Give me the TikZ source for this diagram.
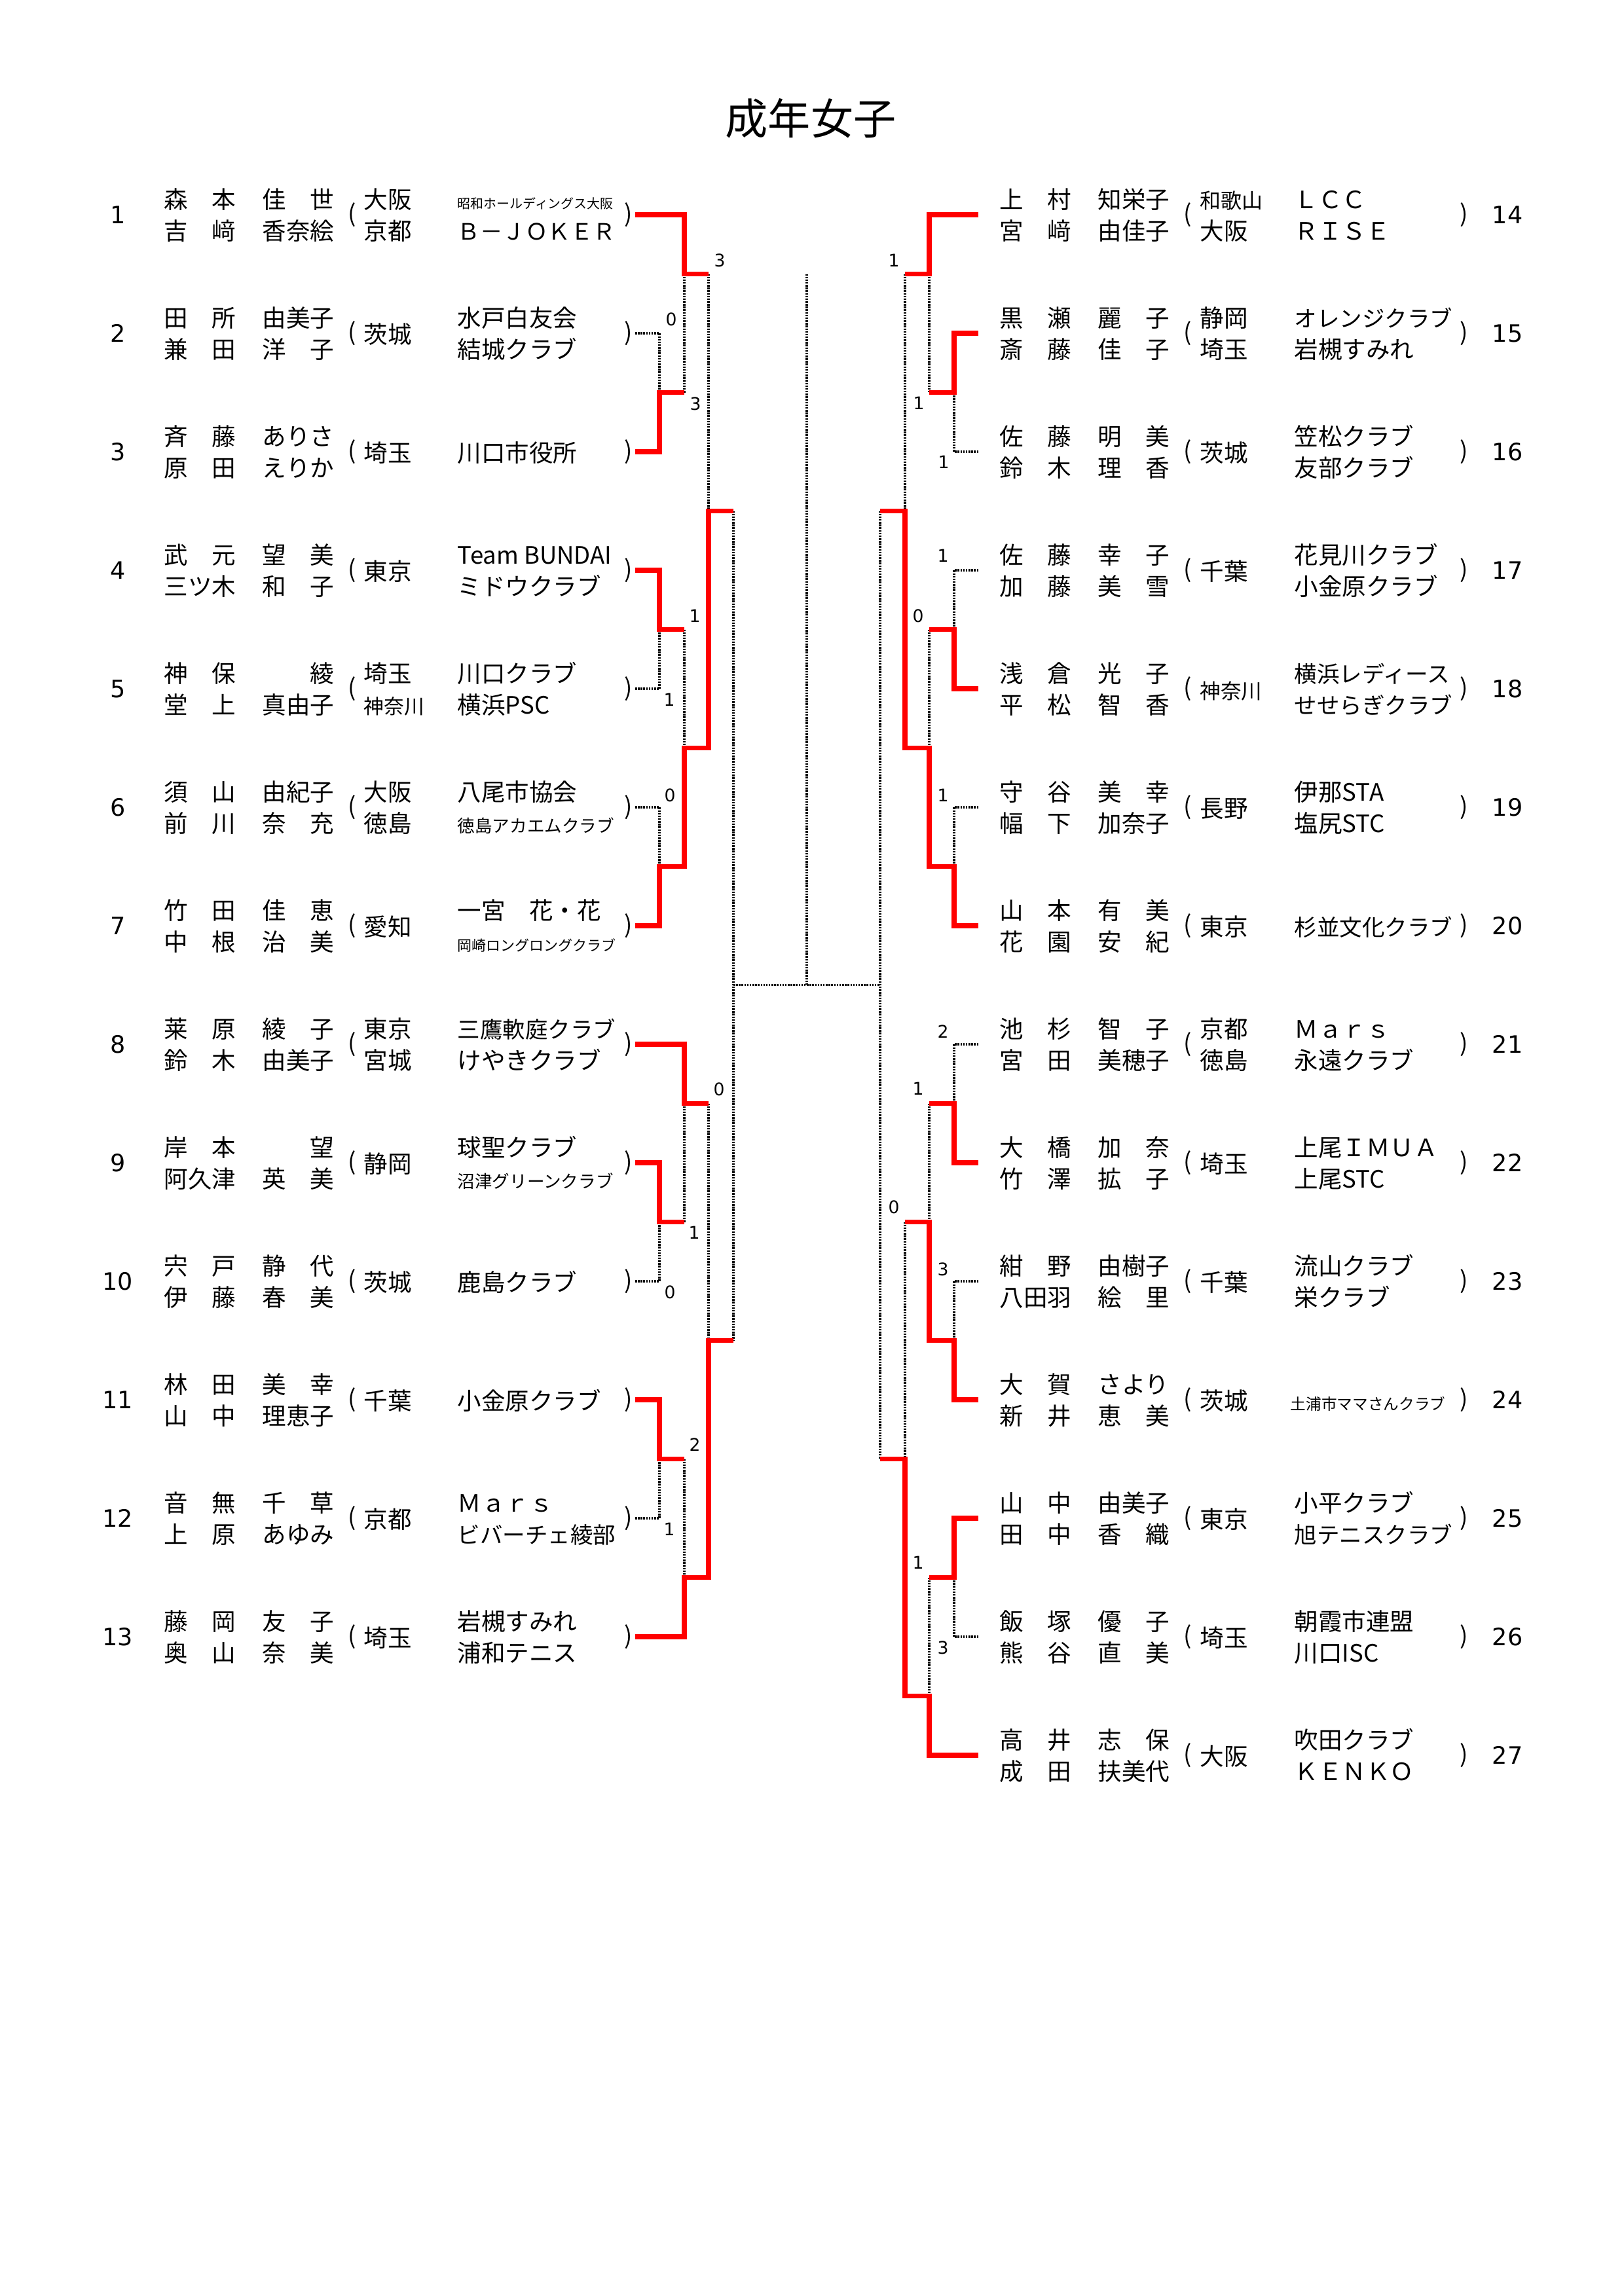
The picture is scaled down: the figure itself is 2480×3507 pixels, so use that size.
\documentclass[tikz,border=0pt]{standalone}
\usepackage{fontspec}
\setmainfont{Noto Sans CJK JP}
\newfontfamily\numfont{DejaVu Sans}
\usetikzlibrary{calc}
\newcommand\pn[2]{\makebox[3em][s]{#1}\hspace{1.1em}\makebox[3em][s]{#2}}
\newcommand\fs[2]{{\fontsize{#1}{#1}\selectfont #2}}
\tikzset{
  txt/.style={inner sep=0pt, anchor=west, font=\fontsize{8.8pt}{10pt}\selectfont, text height=0.88em, text depth=0.12em},
  num/.style={inner sep=0pt, anchor=center, font=\numfont\fontsize{8.8pt}{10pt}\selectfont},
  par/.style={inner sep=0pt, anchor=center, font=\fontsize{8.8pt}{10pt}\selectfont},
  sc/.style={inner sep=0pt, anchor=center, font=\numfont\fontsize{6.4pt}{7pt}\selectfont},
  redline/.style={draw=red, line width=1.8pt},
  dotline/.style={draw=black, line width=0.75pt, dash pattern=on 0.6pt off 0.4pt},
}
\begin{document}
\begin{tikzpicture}[x=0.2409pt, y=-0.2409pt]
\fill[white] (0,0) rectangle (2480,3507);
\useasboundingbox (0,0) rectangle (2480,3507);

\node[inner sep=0pt, font=\fontsize{15.7pt}{17pt}\selectfont] (title) at (1238,181) {成年女子};

% coordinates
\coordinate (L1) at (1007,0); \coordinate (L2) at (1045,0);
\coordinate (L3) at (1082,0); \coordinate (L4) at (1120,0);
\coordinate (C)  at (1232,0);
\coordinate (R4) at (1344,0); \coordinate (R3) at (1382,0);
\coordinate (R2) at (1419,0); \coordinate (R1) at (1457,0);
\foreach \i in {1,...,13} { \coordinate (e\i) at (970,{328+181*(\i-1)}); }
\foreach \i in {14,...,27} { \coordinate (e\i) at (1494,{328+181*(\i-14)}); }
\foreach \k in {0,...,12} { \coordinate (m\k) at (0,{418.5+181*\k}); }

% numbers and parentheses
\foreach \i in {1,...,13} {
  \node[num] (n\i) at (180,{328+181*(\i-1)}) {\i};
  \node[par] (o\i) at (538,{328+181*(\i-1)}) {(};
  \node[par] (c\i) at (960,{328+181*(\i-1)}) {)};
}
\foreach \i in {14,...,27} {
  \node[num] (n\i) at (2302,{328+181*(\i-14)}) {\i};
  \node[par] (o\i) at (1814,{328+181*(\i-14)}) {(};
  \node[par] (c\i) at (2236,{328+181*(\i-14)}) {)};
}

% ---------------- left entries ----------------
% 1
\node[txt] (a1) at (250,303) {\pn{森\hfill{}本}{佳\hfill{}世}};
\node[txt] (b1) at (250,351) {\pn{吉\hfill{}﨑}{香奈絵}};
\node[txt] (p1) at (555,303) {大阪};
\node[txt] (q1) at (555,351) {京都};
\node[txt] (t1) at (698,303) {\fs{4.8pt}{昭和ホールディングス大阪}};
\node[txt] (u1) at (698,351) {\fs{8.3pt}{Ｂ－ＪＯＫＥＲ}};
% 2
\node[txt] (a2) at (250,484) {\pn{田\hfill{}所}{由美子}};
\node[txt] (b2) at (250,532) {\pn{兼\hfill{}田}{洋\hfill{}子}};
\node[txt] (p2) at (555,509) {茨城};
\node[txt] (t2) at (698,484) {水戸白友会};
\node[txt] (u2) at (698,532) {結城クラブ};
% 3
\node[txt] (a3) at (250,665) {\pn{斉\hfill{}藤}{ありさ}};
\node[txt] (b3) at (250,713) {\pn{原\hfill{}田}{えりか}};
\node[txt] (p3) at (555,690) {埼玉};
\node[txt] (t3) at (698,690) {川口市役所};
% 4
\node[txt] (a4) at (250,846) {\pn{武\hfill{}元}{望\hfill{}美}};
\node[txt] (b4) at (250,894) {\pn{三ツ木}{和\hfill{}子}};
\node[txt] (p4) at (555,871) {東京};
\node[txt] (t4) at (698,846) {Team BUNDAI};
\node[txt] (u4) at (698,894) {ミドウクラブ};
% 5
\node[txt] (a5) at (250,1027) {\pn{神\hfill{}保}{\hfill{}綾}};
\node[txt] (b5) at (250,1075) {\pn{堂\hfill{}上}{真由子}};
\node[txt] (p5) at (555,1027) {埼玉};
\node[txt] (q5) at (555,1075) {\fs{7.4pt}{神奈川}};
\node[txt] (t5) at (698,1027) {川口クラブ};
\node[txt] (u5) at (698,1075) {横浜PSC};
% 6
\node[txt] (a6) at (250,1208) {\pn{須\hfill{}山}{由紀子}};
\node[txt] (b6) at (250,1256) {\pn{前\hfill{}川}{奈\hfill{}充}};
\node[txt] (p6) at (555,1208) {大阪};
\node[txt] (q6) at (555,1256) {徳島};
\node[txt] (t6) at (698,1208) {八尾市協会};
\node[txt] (u6) at (698,1256) {\fs{6.4pt}{徳島アカエムクラブ}};
% 7
\node[txt] (a7) at (250,1389) {\pn{竹\hfill{}田}{佳\hfill{}恵}};
\node[txt] (b7) at (250,1437) {\pn{中\hfill{}根}{治\hfill{}美}};
\node[txt] (p7) at (555,1414) {愛知};
\node[txt] (t7) at (698,1389) {一宮　花・花};
\node[txt] (u7) at (698,1437) {\fs{5.3pt}{岡崎ロングロングクラブ}};
% 8
\node[txt] (a8) at (250,1570) {\pn{莱\hfill{}原}{綾\hfill{}子}};
\node[txt] (b8) at (250,1618) {\pn{鈴\hfill{}木}{由美子}};
\node[txt] (p8) at (555,1570) {東京};
\node[txt] (q8) at (555,1618) {宮城};
\node[txt] (t8) at (698,1570) {\fs{8.3pt}{三鷹軟庭クラブ}};
\node[txt] (u8) at (698,1618) {けやきクラブ};
% 9
\node[txt] (a9) at (250,1751) {\pn{岸\hfill{}本}{\hfill{}望}};
\node[txt] (b9) at (250,1799) {\pn{阿久津}{英\hfill{}美}};
\node[txt] (p9) at (555,1776) {静岡};
\node[txt] (t9) at (698,1751) {球聖クラブ};
\node[txt] (u9) at (698,1799) {\fs{6.4pt}{沼津グリーンクラブ}};
% 10
\node[txt] (a10) at (250,1932) {\pn{宍\hfill{}戸}{静\hfill{}代}};
\node[txt] (b10) at (250,1980) {\pn{伊\hfill{}藤}{春\hfill{}美}};
\node[txt] (p10) at (555,1957) {茨城};
\node[txt] (t10) at (698,1957) {鹿島クラブ};
% 11
\node[txt] (a11) at (250,2113) {\pn{林\hfill{}田}{美\hfill{}幸}};
\node[txt] (b11) at (250,2161) {\pn{山\hfill{}中}{理恵子}};
\node[txt] (p11) at (555,2138) {千葉};
\node[txt] (t11) at (698,2138) {小金原クラブ};
% 12
\node[txt] (a12) at (250,2294) {\pn{音\hfill{}無}{千\hfill{}草}};
\node[txt] (b12) at (250,2342) {\pn{上\hfill{}原}{あゆみ}};
\node[txt] (p12) at (555,2319) {京都};
\node[txt] (t12) at (698,2294) {Ｍａｒｓ};
\node[txt] (u12) at (698,2342) {\fs{8.3pt}{ビバーチェ綾部}};
% 13
\node[txt] (a13) at (250,2475) {\pn{藤\hfill{}岡}{友\hfill{}子}};
\node[txt] (b13) at (250,2523) {\pn{奥\hfill{}山}{奈\hfill{}美}};
\node[txt] (p13) at (555,2500) {埼玉};
\node[txt] (t13) at (698,2475) {岩槻すみれ};
\node[txt] (u13) at (698,2523) {浦和テニス};

% ---------------- right entries ----------------
% 14
\node[txt] (a14) at (1526,303) {\pn{上\hfill{}村}{知栄子}};
\node[txt] (b14) at (1526,351) {\pn{宮\hfill{}﨑}{由佳子}};
\node[txt] (p14) at (1832,303) {\fs{7.7pt}{和歌山}};
\node[txt] (q14) at (1832,351) {大阪};
\node[txt] (t14) at (1976,303) {ＬＣＣ};
\node[txt] (u14) at (1976,351) {ＲＩＳＥ};
% 15
\node[txt] (a15) at (1526,484) {\pn{黒\hfill{}瀬}{麗\hfill{}子}};
\node[txt] (b15) at (1526,532) {\pn{斎\hfill{}藤}{佳\hfill{}子}};
\node[txt] (p15) at (1832,484) {静岡};
\node[txt] (q15) at (1832,532) {埼玉};
\node[txt] (t15) at (1976,484) {\fs{8.3pt}{オレンジクラブ}};
\node[txt] (u15) at (1976,532) {岩槻すみれ};
% 16
\node[txt] (a16) at (1526,665) {\pn{佐\hfill{}藤}{明\hfill{}美}};
\node[txt] (b16) at (1526,713) {\pn{鈴\hfill{}木}{理\hfill{}香}};
\node[txt] (p16) at (1832,690) {茨城};
\node[txt] (t16) at (1976,665) {笠松クラブ};
\node[txt] (u16) at (1976,713) {友部クラブ};
% 17
\node[txt] (a17) at (1526,846) {\pn{佐\hfill{}藤}{幸\hfill{}子}};
\node[txt] (b17) at (1526,894) {\pn{加\hfill{}藤}{美\hfill{}雪}};
\node[txt] (p17) at (1832,871) {千葉};
\node[txt] (t17) at (1976,846) {花見川クラブ};
\node[txt] (u17) at (1976,894) {小金原クラブ};
% 18
\node[txt] (a18) at (1526,1027) {\pn{浅\hfill{}倉}{光\hfill{}子}};
\node[txt] (b18) at (1526,1075) {\pn{平\hfill{}松}{智\hfill{}香}};
\node[txt] (p18) at (1832,1052) {\fs{7.6pt}{神奈川}};
\node[txt] (t18) at (1976,1027) {\fs{8.3pt}{横浜レディース}};
\node[txt] (u18) at (1976,1075) {\fs{8.3pt}{せせらぎクラブ}};
% 19
\node[txt] (a19) at (1526,1208) {\pn{守\hfill{}谷}{美\hfill{}幸}};
\node[txt] (b19) at (1526,1256) {\pn{幅\hfill{}下}{加奈子}};
\node[txt] (p19) at (1832,1233) {長野};
\node[txt] (t19) at (1976,1208) {伊那STA};
\node[txt] (u19) at (1976,1256) {塩尻STC};
% 20
\node[txt] (a20) at (1526,1389) {\pn{山\hfill{}本}{有\hfill{}美}};
\node[txt] (b20) at (1526,1437) {\pn{花\hfill{}園}{安\hfill{}紀}};
\node[txt] (p20) at (1832,1414) {東京};
\node[txt] (t20) at (1976,1414) {\fs{8.3pt}{杉並文化クラブ}};
% 21
\node[txt] (a21) at (1526,1570) {\pn{池\hfill{}杉}{智\hfill{}子}};
\node[txt] (b21) at (1526,1618) {\pn{宮\hfill{}田}{美穂子}};
\node[txt] (p21) at (1832,1570) {京都};
\node[txt] (q21) at (1832,1618) {徳島};
\node[txt] (t21) at (1976,1570) {Ｍａｒｓ};
\node[txt] (u21) at (1976,1618) {永遠クラブ};
% 22
\node[txt] (a22) at (1526,1751) {\pn{大\hfill{}橋}{加\hfill{}奈}};
\node[txt] (b22) at (1526,1799) {\pn{竹\hfill{}澤}{拡\hfill{}子}};
\node[txt] (p22) at (1832,1776) {埼玉};
\node[txt] (t22) at (1976,1751) {上尾ＩＭＵＡ};
\node[txt] (u22) at (1976,1799) {上尾STC};
% 23
\node[txt] (a23) at (1526,1932) {\pn{紺\hfill{}野}{由樹子}};
\node[txt] (b23) at (1526,1980) {\pn{八田羽}{絵\hfill{}里}};
\node[txt] (p23) at (1832,1957) {千葉};
\node[txt] (t23) at (1976,1932) {流山クラブ};
\node[txt] (u23) at (1976,1980) {栄クラブ};
% 24
\node[txt] (a24) at (1526,2113) {\pn{大\hfill{}賀}{さより}};
\node[txt] (b24) at (1526,2161) {\pn{新\hfill{}井}{恵\hfill{}美}};
\node[txt] (p24) at (1832,2138) {茨城};
\node[txt] (t24) at (1970,2138) {\fs{5.7pt}{土浦市ママさんクラブ}};
% 25
\node[txt] (a25) at (1526,2294) {\pn{山\hfill{}中}{由美子}};
\node[txt] (b25) at (1526,2342) {\pn{田\hfill{}中}{香\hfill{}織}};
\node[txt] (p25) at (1832,2319) {東京};
\node[txt] (t25) at (1976,2294) {小平クラブ};
\node[txt] (u25) at (1976,2342) {\fs{8.3pt}{旭テニスクラブ}};
% 26
\node[txt] (a26) at (1526,2475) {\pn{飯\hfill{}塚}{優\hfill{}子}};
\node[txt] (b26) at (1526,2523) {\pn{熊\hfill{}谷}{直\hfill{}美}};
\node[txt] (p26) at (1832,2500) {埼玉};
\node[txt] (t26) at (1976,2475) {朝霞市連盟};
\node[txt] (u26) at (1976,2523) {川口ISC};
% 27
\node[txt] (a27) at (1526,2656) {\pn{高\hfill{}井}{志\hfill{}保}};
\node[txt] (b27) at (1526,2704) {\pn{成\hfill{}田}{扶美代}};
\node[txt] (p27) at (1832,2681) {大阪};
\node[txt] (t27) at (1976,2656) {吹田クラブ};
\node[txt] (u27) at (1976,2704) {ＫＥＮＫＯ};

% ---------------- bracket: dotted (losers) ----------------
\draw[dotline] (e2) -- (L1|-e2) -- (L1|-m1);
\draw[dotline] (L2|-m1) -- (L2|-m0);
\draw[dotline] (L3|-m0) -- (L3|-m2);
\draw[dotline] (e5) -- (L1|-e5) -- (L1|-m3);
\draw[dotline] (e6) -- (L1|-e6) -- (L1|-m5);
\draw[dotline] (L2|-m3) -- (L2|-m4);
\draw[dotline] (L4|-m2) -- (L4|-m9);
\draw[dotline] (e10) -- (L1|-e10) -- (L1|-m8);
\draw[dotline] (L2|-m8) -- (L2|-m7);
\draw[dotline] (L3|-m7) -- (L3|-m9);
\draw[dotline] (e12) -- (L1|-e12) -- (L1|-m10);
\draw[dotline] (L2|-m10) -- (L2|-m11);

\draw[dotline] (L4|-m6) -- (R4|-m6);
\draw[dotline] (C|-m0) -- (C|-m6);

\draw[dotline] (e16) -- (R1|-e16) -- (R1|-m1);
\draw[dotline] (R2|-m0) -- (R2|-m1);
\draw[dotline] (R3|-m0) -- (R3|-m2);
\draw[dotline] (e17) -- (R1|-e17) -- (R1|-m3);
\draw[dotline] (e19) -- (R1|-e19) -- (R1|-m5);
\draw[dotline] (R2|-m3) -- (R2|-m4);
\draw[dotline] (R4|-m2) -- (R4|-m10);
\draw[dotline] (e21) -- (R1|-e21) -- (R1|-m7);
\draw[dotline] (R2|-m7) -- (R2|-m8);
\draw[dotline] (e23) -- (R1|-e23) -- (R1|-m9);
\draw[dotline] (R3|-m8) -- (R3|-m10);
\draw[dotline] (e26) -- (R1|-e26) -- (R1|-m11);
\draw[dotline] (R2|-m11) -- (R2|-m12);

% ---------------- bracket: red (winners) ----------------
\draw[redline] (e1) -- (L2|-e1) -- (L2|-m0) -- (L3|-m0);
\draw[redline] (e3) -- (L1|-e3) -- (L1|-m1) -- (L2|-m1);
\draw[redline] (e4) -- (L1|-e4) -- (L1|-m3) -- (L2|-m3);
\draw[redline] (e7) -- (L1|-e7) -- (L1|-m5) -- (L2|-m5) -- (L2|-m4) -- (L3|-m4) -- (L3|-m2) -- (L4|-m2);
\draw[redline] (e8) -- (L2|-e8) -- (L2|-m7) -- (L3|-m7);
\draw[redline] (e9) -- (L1|-e9) -- (L1|-m8) -- (L2|-m8);
\draw[redline] (e11) -- (L1|-e11) -- (L1|-m10) -- (L2|-m10);
\draw[redline] (e13) -- (L2|-e13) -- (L2|-m11) -- (L3|-m11) -- (L3|-m9) -- (L4|-m9);

\draw[redline] (e14) -- (R2|-e14) -- (R2|-m0) -- (R3|-m0);
\draw[redline] (e15) -- (R1|-e15) -- (R1|-m1) -- (R2|-m1);
\draw[redline] (e18) -- (R1|-e18) -- (R1|-m3) -- (R2|-m3);
\draw[redline] (e20) -- (R1|-e20) -- (R1|-m5) -- (R2|-m5) -- (R2|-m4) -- (R3|-m4) -- (R3|-m2) -- (R4|-m2);
\draw[redline] (e22) -- (R1|-e22) -- (R1|-m7) -- (R2|-m7);
\draw[redline] (e24) -- (R1|-e24) -- (R1|-m9) -- (R2|-m9) -- (R2|-m8) -- (R3|-m8);
\draw[redline] (e25) -- (R1|-e25) -- (R1|-m11) -- (R2|-m11);
\draw[redline] (e27) -- (R2|-e27) -- (R2|-m12) -- (R3|-m12) -- (R3|-m10) -- (R4|-m10);

% ---------------- scores ----------------
\node[sc] (s1) at (1099,398) {3};
\node[sc] (s2) at (1025,488) {0};
\node[sc] (s3) at (1062,617) {3};
\node[sc] (s4) at (1061,941) {1};
\node[sc] (s5) at (1022,1069) {1};
\node[sc] (s6) at (1023,1215) {0};
\node[sc] (s7) at (1098,1664) {0};
\node[sc] (s8) at (1060,1883) {1};
\node[sc] (s9) at (1023,1974) {0};
\node[sc] (s10) at (1061,2207) {2};
\node[sc] (s11) at (1022,2336) {1};

\node[sc] (r1) at (1365,398) {1};
\node[sc] (r2) at (1403,616) {1};
\node[sc] (r3) at (1441,706) {1};
\node[sc] (r4) at (1440,849) {1};
\node[sc] (r5) at (1402,941) {0};
\node[sc] (r6) at (1440,1215) {1};
\node[sc] (r7) at (1440,1576) {2};
\node[sc] (r8) at (1402,1663) {1};
\node[sc] (r9) at (1365,1844) {0};
\node[sc] (r10) at (1440,1939) {3};
\node[sc] (r11) at (1402,2387) {1};
\node[sc] (r12) at (1440,2517) {3};
\end{tikzpicture}
\end{document}
